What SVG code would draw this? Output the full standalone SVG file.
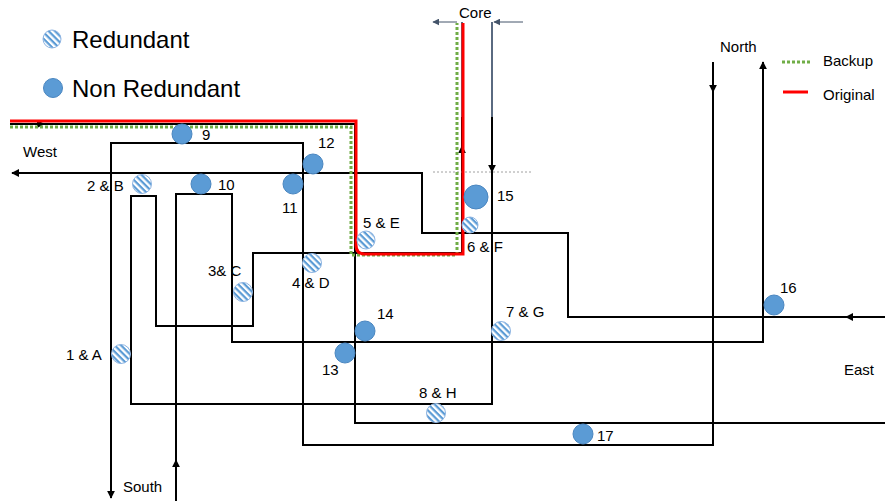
<svg xmlns="http://www.w3.org/2000/svg" width="885" height="501" viewBox="0 0 885 501">
<style>
text{font-family:"Liberation Sans",Arial,sans-serif;font-size:15px;fill:#000}
.big{font-size:24px}
.ln{fill:none;stroke:#000;stroke-width:2}
.gray{fill:none;stroke:#5A6A80;stroke-width:2}
.thin{fill:none;stroke:#44546A;stroke-width:1}
.red{fill:none;stroke:#FF0000;stroke-width:3}
.grn{fill:none;stroke:#70AD47;stroke-width:3;stroke-dasharray:3 2}
.solid{fill:#5B9BD5;stroke:#4A86C0;stroke-width:1}
.hatch{fill:url(#hp);stroke:#8DB4E2;stroke-width:1}
</style>
<defs>
<pattern id="hp" patternUnits="userSpaceOnUse" width="4.5" height="4.5" patternTransform="rotate(45)">
<rect width="4.5" height="4.5" fill="#fff"/>
<rect width="4.5" height="2.2" fill="#5B9BD5"/>
</pattern>
<marker id="ah" viewBox="0 0 10 10" refX="9" refY="5" markerWidth="4" markerHeight="4" orient="auto" markerUnits="strokeWidth">
<path d="M0,0 L10,5 L0,10 z" fill="#000"/>
</marker>
<marker id="ag" viewBox="0 0 10 10" refX="9" refY="5" markerWidth="7" markerHeight="7" orient="auto" markerUnits="strokeWidth">
<path d="M0,0 L10,5 L0,10 z" fill="#44546A"/>
</marker>
</defs>
<rect width="885" height="501" fill="#fff"/>

<g id="legend">
<circle class="hatch" cx="52" cy="39" r="9"/>
<text class="big" x="72" y="48">Redundant</text>
<circle class="solid" cx="53" cy="88" r="9.5"/>
<text class="big" x="72" y="97">Non Redundant</text>
<line x1="782" y1="62" x2="812" y2="62" class="grn"/>
<text x="823" y="66">Backup</text>
<line x1="783" y1="92" x2="808" y2="92" class="red"/>
<text x="823" y="100">Original</text>
</g>

<g id="labels">
<text x="459" y="18">Core</text>
<text x="23" y="157">West</text>
<text x="720" y="52">North</text>
<text x="123" y="492">South</text>
<text x="844" y="375">East</text>
</g>

<g id="connectors">
<path class="ln" d="M10,124 H355 V423 H885"/>
<path class="ln" d="M10,124 H44" marker-end="url(#ah)"/>
<path class="ln" d="M885,317 H568 V233 H422 V173 H12" marker-end="url(#ah)"/>
<path class="ln" d="M885,317 H846" marker-end="url(#ah)"/>
<path class="ln" d="M492,117 V404 H131 V196 H156 V326 H253 V253 H462 V117"/>
<path class="gray" d="M492,22 V117 M462,22 V117"/>
<path class="ln" d="M492,117 V172" marker-end="url(#ah)"/>
<path class="ln" d="M462,253 V146" marker-end="url(#ah)"/>
<path class="thin" d="M457,22 H433" marker-end="url(#ag)"/>
<path class="thin" d="M523,22 H494" marker-end="url(#ag)"/>
<path class="ln" d="M713,62 V445 H303 V143 H111 V498" marker-end="url(#ah)"/>
<path class="ln" d="M713,62 V92" marker-end="url(#ah)"/>
<path class="ln" d="M176,501 V194 H232 V342 H763 V62" marker-end="url(#ah)"/>
<path class="ln" d="M176,501 V460" marker-end="url(#ah)"/>
<line x1="433" y1="172" x2="533" y2="172" stroke="#888" stroke-width="0.8" stroke-dasharray="2 2"/>
<path class="grn" d="M10,127 H351 V255 H457 V23"/>
<path class="red" d="M10,121 H356 V245 Q356,254 365,254 H463 V23"/>
</g>

<g id="n9"><circle class="solid" cx="182" cy="134" r="10"/><text x="202" y="140">9</text></g>
<g id="n2B"><circle class="hatch" cx="142" cy="184" r="9.5"/><text x="87" y="191">2 &amp; B</text></g>
<g id="n10"><circle class="solid" cx="201" cy="184" r="10"/><text x="218" y="190">10</text></g>
<g id="n12"><circle class="solid" cx="313" cy="164" r="10"/><text x="318" y="148">12</text></g>
<g id="n11"><circle class="solid" cx="293" cy="184" r="10"/><text x="282" y="213">11</text></g>
<g id="n5E"><circle class="hatch" cx="366" cy="240" r="9"/><text x="363" y="228">5 &amp; E</text></g>
<g id="n15"><circle class="solid" cx="476" cy="197" r="12"/><text x="497" y="201">15</text></g>
<g id="n6F"><circle class="hatch" cx="470" cy="225" r="8"/><text x="467" y="252">6 &amp; F</text></g>
<g id="n4D"><circle class="hatch" cx="312" cy="263" r="9.5"/><text x="292" y="288">4 &amp; D</text></g>
<g id="n3C"><circle class="hatch" cx="243" cy="292" r="9.5"/><text x="208" y="276">3&amp; C</text></g>
<g id="n14"><circle class="solid" cx="365" cy="331" r="10"/><text x="377" y="319">14</text></g>
<g id="n13"><circle class="solid" cx="345" cy="353" r="10"/><text x="322" y="375">13</text></g>
<g id="n7G"><circle class="hatch" cx="501" cy="331" r="9.5"/><text x="506" y="317">7 &amp; G</text></g>
<g id="n8H"><circle class="hatch" cx="436" cy="413" r="9.5"/><text x="419" y="398">8 &amp; H</text></g>
<g id="n1A"><circle class="hatch" cx="121" cy="354" r="9.5"/><text x="66" y="360">1 &amp; A</text></g>
<g id="n16"><circle class="solid" cx="774" cy="305" r="10"/><text x="780" y="293">16</text></g>
<g id="n17"><circle class="solid" cx="583" cy="434" r="10"/><text x="597" y="441">17</text></g>
</svg>
